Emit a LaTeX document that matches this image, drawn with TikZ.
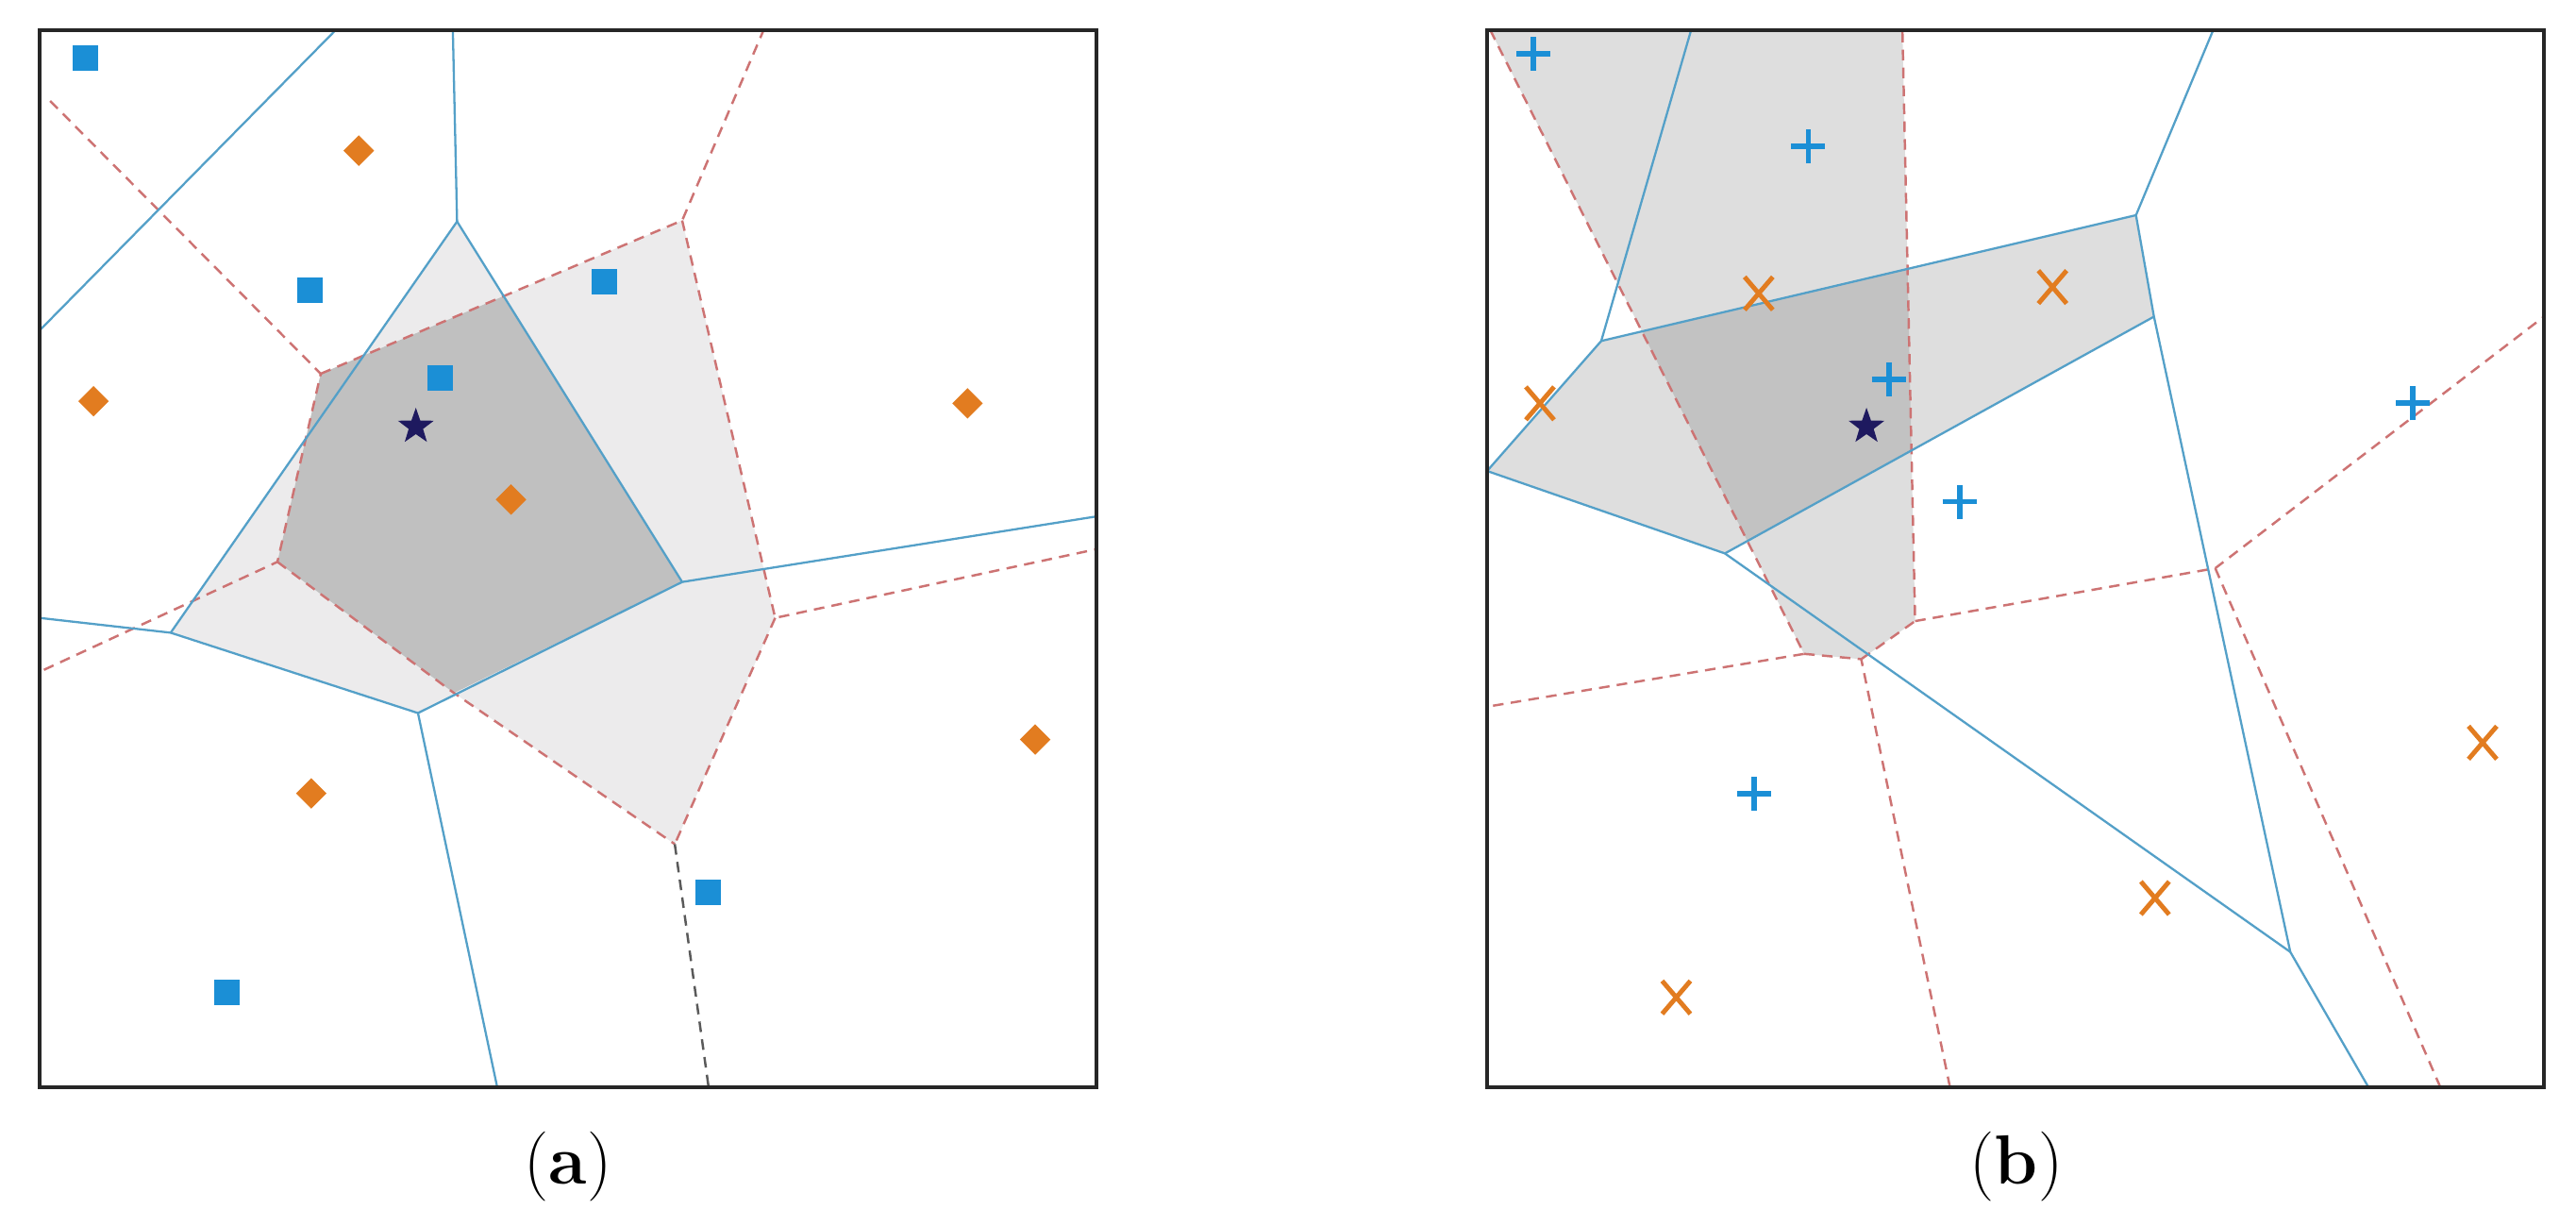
\documentclass[tikz,border=0pt]{standalone}
\usetikzlibrary{shapes.geometric,shapes.misc}
\definecolor{vblue}{RGB}{84,160,200}
\definecolor{vred}{RGB}{205,115,115}
\definecolor{vdark}{RGB}{90,90,90}
\definecolor{mblue}{RGB}{27,143,214}
\definecolor{morange}{RGB}{226,124,32}
\definecolor{mnavy}{RGB}{30,25,95}
\definecolor{lightA}{RGB}{236,235,236}
\definecolor{darkA}{RGB}{192,192,192}
\definecolor{lightB}{RGB}{222,222,222}
\definecolor{darkB}{RGB}{194,194,194}
\tikzset{
 bline/.style={draw=vblue, line width=0.65pt},
 rline/.style={draw=vred, line width=0.7pt, dash pattern=on 3.2pt off 2.2pt},
 kline/.style={draw=vdark, line width=0.7pt, dash pattern=on 3.2pt off 2.2pt},
 frame/.style={draw=black!85, line width=0.9pt},
 sqm/.style={rectangle, fill=mblue, minimum size=0.27cm, inner sep=0pt},
 diam/.style={diamond, fill=morange, minimum size=0.33cm, inner sep=0pt},
 starm/.style={star, star points=5, star point ratio=2.5, fill=mnavy, minimum size=0.4cm, inner sep=0pt},
 xm/.style={cross out, draw=morange, line width=1.4pt, minimum width=0.25cm, minimum height=0.3cm, inner sep=0pt},
 plusm/.pic={\draw[mblue, line width=1.7pt] (-0.18cm,0pt)--(0.18cm,0pt) (0pt,-0.18cm)--(0pt,0.18cm);},
 lab/.style={font=\fontsize{21}{25}\selectfont, inner sep=0pt},
}
\begin{document}
\begin{tikzpicture}
\useasboundingbox[fill=white] (0,0) rectangle (27.30,12.99);
% ---------------- panel (a) ----------------
\begin{scope}[shift={(0.42cm,1.47cm)}, x=0.112cm, y=0.112cm]
 \coordinate (a1t) at (28.0,100); \coordinate (a1l) at (0,71.6);
 \coordinate (At) at (39.1,100); \coordinate (A) at (39.5,81.9);
 \coordinate (B) at (12.4,43.0); \coordinate (C) at (60.8,47.8);
 \coordinate (Cr) at (100,54.0); \coordinate (D) at (35.8,35.4);
 \coordinate (Bl) at (0,44.4); \coordinate (Db) at (43.3,0);
 \coordinate (Es) at (1.0,93.3); \coordinate (E) at (26.6,67.5);
 \coordinate (F) at (22.5,49.7); \coordinate (Fl) at (0,39.3);
 \coordinate (G) at (39.2,37.3); \coordinate (H) at (60.1,23.0);
 \coordinate (I) at (60.8,82.0); \coordinate (It) at (68.5,100);
 \coordinate (J) at (69.6,44.4); \coordinate (Jr) at (100,50.9);
 \coordinate (Hb) at (63.3,0);
 \fill[lightA] (E)--(I)--(J)--(H)--(G)--(F)--cycle;
 \fill[lightA] (A)--(C)--(D)--(B)--cycle;
 \fill[darkA] (E)--(intersection of A--C and E--I)--(C)--(G)--(F)--cycle;
 \draw[rline] (Es)--(E)--(F)--(Fl);
 \draw[rline] (F)--(G)--(H);
 \draw[rline] (E)--(I)--(It);
 \draw[rline] (I)--(J)--(Jr);
 \draw[rline] (J)--(H);
 \draw[kline] (H)--(Hb);
 \draw[bline] (a1t)--(a1l);
 \draw[bline] (At)--(A)--(B)--(Bl);
 \draw[bline] (A)--(C)--(Cr);
 \draw[bline] (C)--(D)--(B);
 \draw[bline] (D)--(Db);
 \draw[frame] (0,0) rectangle (100,100);
 \node[sqm] (sa1) at (4.3,97.4) {};
 \node[sqm] (sa2) at (25.6,75.4) {};
 \node[sqm] (sa3) at (53.4,76.2) {};
 \node[sqm] (sa4) at (37.9,67.1) {};
 \node[sqm] (sa5) at (63.3,18.4) {};
 \node[sqm] (sa6) at (17.7,9.0) {};
 \node[diam] (da1) at (30.2,88.6) {};
 \node[diam] (da2) at (5.1,64.9) {};
 \node[diam] (da3) at (87.8,64.7) {};
 \node[diam] (da4) at (44.6,55.6) {};
 \node[diam] (da5) at (25.7,27.8) {};
 \node[diam] (da6) at (94.2,32.9) {};
 \node[starm] (stara) at (35.6,62.5) {};
\end{scope}
% ---------------- panel (b) ----------------
\begin{scope}[shift={(15.76cm,1.47cm)}, x=0.112cm, y=0.112cm]
 \coordinate (Bt) at (19.3,100); \coordinate (P) at (10.8,70.6);
 \coordinate (Q) at (0,58.3); \coordinate (R) at (22.5,50.5);
 \coordinate (S) at (61.4,82.5); \coordinate (St) at (68.7,100);
 \coordinate (T) at (63.1,72.9); \coordinate (U) at (76.0,12.8);
 \coordinate (Ub) at (83.4,0);
 \coordinate (Vs) at (0.3,100); \coordinate (V) at (30.0,41.0);
 \coordinate (Vl) at (0,36.0); \coordinate (Y) at (35.4,40.5);
 \coordinate (Yb) at (43.8,0); \coordinate (W) at (40.5,44.1);
 \coordinate (Wt) at (39.3,100); \coordinate (X) at (68.9,49.1);
 \coordinate (Xr) at (100,72.9); \coordinate (Xb) at (90.2,0);
 \fill[lightB] (Vs)--(V)--(Y)--(W)--(Wt)--cycle;
 \fill[lightB] (Q)--(P)--(S)--(T)--(R)--cycle;
 \begin{scope}
  \clip (Vs)--(V)--(Y)--(W)--(Wt)--cycle;
  \fill[darkB] (Q)--(P)--(S)--(T)--(R)--cycle;
 \end{scope}
 \draw[rline] (Vs)--(V)--(Vl);
 \draw[rline] (V)--(Y)--(Yb);
 \draw[rline] (Y)--(W)--(Wt);
 \draw[rline] (W)--(X)--(Xr);
 \draw[rline] (X)--(Xb);
 \draw[bline] (Bt)--(P)--(Q)--(R);
 \draw[bline] (P)--(S)--(St);
 \draw[bline] (S)--(T)--(R);
 \draw[bline] (T)--(U)--(Ub);
 \draw[bline] (R)--(U);
 \draw[frame] (0,0) rectangle (100,100);
 \pic at (4.4,97.8) {plusm};
 \pic at (30.4,89.0) {plusm};
 \pic at (38.0,67.0) {plusm};
 \pic at (44.7,55.4) {plusm};
 \pic at (87.6,64.7) {plusm};
 \pic at (25.3,27.8) {plusm};
 \node[xm] (xb1) at (25.7,75.1) {};
 \node[xm] (xb2) at (53.5,75.7) {};
 \node[xm] (xb3) at (5.0,64.7) {};
 \node[xm] (xb4) at (94.2,32.6) {};
 \node[xm] (xb5) at (63.2,17.9) {};
 \node[xm] (xb6) at (17.9,8.5) {};
 \node[starm] (starb) at (35.9,62.5) {};
\end{scope}
\node[lab] (la) at (6.02,0.63) {(\textbf{a})};
\node[lab] (lb) at (21.37,0.63) {(\textbf{b})};
\end{tikzpicture}
\end{document}
